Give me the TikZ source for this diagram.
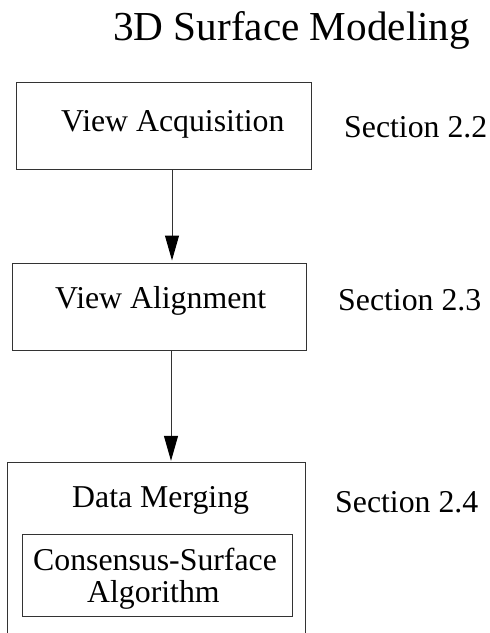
\documentclass[tikz,border=0pt]{standalone}
\usepackage{fontspec}
\setmainfont{Liberation Serif}
\usetikzlibrary{arrows.meta}
\begin{document}
\begin{tikzpicture}[x=1pt,y=-1pt,
  box/.style={draw=black!80,line width=1pt,minimum width=#1,inner sep=0pt},
  lbl/.style={anchor=base west,inner sep=0pt,font=\fontsize{31.8}{32}\selectfont},
  arr/.style={draw=black!80,line width=1pt,-{Triangle[length=25pt,width=14pt,color=black]},shorten >=2pt}]
\useasboundingbox (0,0) rectangle (490,633);
% title
\node[anchor=base west,inner sep=0pt,font=\fontsize{41.2}{42}\selectfont] (title) at (113,40) {3D Surface Modeling};
% boxes
\node[box=295pt,minimum height=87pt] (b1) at (163.5,125.5) {};
\node[box=294pt,minimum height=87pt] (b2) at (159,306.5) {};
\node[minimum width=297pt,minimum height=170pt,inner sep=0pt] (b3) at (156.5,548) {};
\draw[black!80,line width=1pt] (b3.south west) -- (b3.north west) -- (b3.north east) -- (b3.south east);
\node[box=270pt,minimum height=82pt] (b4) at (157,575) {};
% texts
\node[lbl] (t1) at (61,131) {View Acquisition};
\node[lbl] (s1) at (344,137) {Section 2.2};
\node[lbl] (t2) at (55,308) {View Alignment};
\node[lbl] (s2) at (338,310) {Section 2.3};
\node[lbl] (t3) at (72,507) {Data Merging};
\node[lbl] (s3) at (335,512) {Section 2.4};
\node[lbl] (t4) at (33,570) {Consensus-Surface};
\node[lbl] (t5) at (87,602) {Algorithm};
% arrows
\draw[arr] ([xshift=8.5pt]b1.south) -- ([xshift=8.5pt]b1.south |- b2.north);
\draw[arr] ([xshift=12pt]b2.south) -- ([xshift=12pt]b2.south |- b3.north);
\end{tikzpicture}
\end{document}
